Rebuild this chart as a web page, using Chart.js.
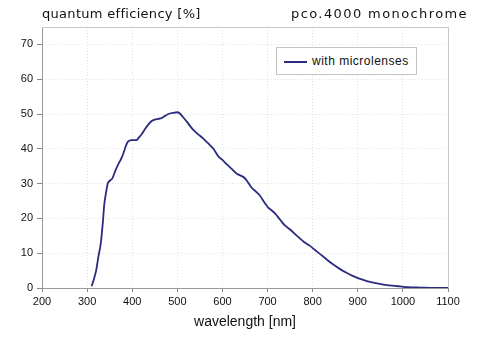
<!DOCTYPE html>
<html>
<head>
<meta charset="utf-8">
<title>pco.4000 monochrome – quantum efficiency</title>
<script src="https://cdn.jsdelivr.net/npm/chart.js@4/dist/chart.umd.min.js"></script>
<style>
  html, body { margin: 0; padding: 0; background: #fff; }
  #wrap {
    position: relative;
    width: 477px;
    height: 344px;
    font-family: 'Liberation Sans', Arial, sans-serif;
    color: #111;
  }
  #chart { position: absolute; left: 0; top: 0; }
  .head {
    position: absolute;
    top: 6px;
    font-family: 'DejaVu Sans', sans-serif;
    font-size: 13px;
    line-height: 16px;
    white-space: nowrap;
  }
  #head-left { left: 42px; letter-spacing: 0.3px; }
  #head-right { right: 9px; letter-spacing: 1.4px; }
  #legend {
    position: absolute;
    left: 276px;
    top: 47px;
    width: 141px;
    height: 28px;
    box-sizing: border-box;
    border: 1px solid #c4c4c4;
    background: #fff;
    font-size: 12px;
    letter-spacing: 0.5px;
  }
  #legend .swatch {
    position: absolute;
    left: 7px;
    top: 13px;
    width: 23px;
    height: 0;
    border-top: 2px solid #2b2b7f;
  }
  #legend .label {
    position: absolute;
    left: 35px;
    top: 6px;
    line-height: 14px;
    white-space: nowrap;
  }
</style>
</head>
<body>
<div id="wrap">
  <canvas id="chart" width="477" height="344"></canvas>
  <div class="head" id="head-left">quantum efficiency [%]</div>
  <div class="head" id="head-right">pco.4000 monochrome</div>
  <div id="legend"></div>
</div>

<script>
/* ---- data ---- */
const seriesName = 'with microlenses';

// wavelength [nm]
const wavelengths = [
  310, 315, 320, 325, 330, 335, 338, 342, 346, 350,
  356, 362, 369, 375, 380, 385, 390, 398, 410, 415,
  421, 428, 436, 443, 450, 458, 465, 472, 480, 490,
  500, 505, 512, 521, 528, 535, 545, 557, 568, 580,
  591, 600, 610, 620, 632, 645, 652, 665, 675, 683,
  692, 702, 710, 717, 728, 739, 750, 765, 780, 794,
  805, 818, 831, 845, 860, 875, 890, 905, 920, 940,
  957, 975, 990, 1001, 1020, 1040, 1060, 1080, 1100
];

// quantum efficiency [%]
const efficiency = [
  0.5, 2.5, 5, 9, 12.5, 19, 24, 27.5, 30.2, 30.8,
  31.5, 33.5, 35.5, 37, 38.5, 40.5, 42, 42.5, 42.5, 43.3,
  44.2, 45.6, 47, 48, 48.4, 48.6, 48.8, 49.4, 50, 50.3,
  50.5, 50.2, 49.2, 47.8, 46.6, 45.5, 44.3, 43, 41.6, 40,
  37.8, 36.8, 35.5, 34.3, 32.8, 32, 31.2, 28.8, 27.6, 26.6,
  24.8, 23, 22.2, 21.4, 19.6, 17.9, 16.8, 15, 13.3, 12.1,
  10.9, 9.6, 8.2, 6.8, 5.5, 4.4, 3.4, 2.6, 2, 1.4,
  1, 0.7, 0.5, 0.35, 0.2, 0.1, 0.05, 0.02, 0
];

// axis ranges / tick steps
const xRange = [200, 1100];
const xStep = 100;
const yRange = [0, 75];
const yStep = 10;
const yLastTick = 70;

const lineColor = '#2b2b7f';

// legend (HTML, built from the series name)
document.getElementById('legend').innerHTML =
  '<span class="swatch"></span><span class="label">' + seriesName + '</span>';

// thin frame on top / right of the plot area
const framePlugin = {
  id: 'frame',
  beforeDatasetsDraw(chart) {
    const { ctx, chartArea: a } = chart;
    ctx.save();
    ctx.strokeStyle = '#c8c8c8';
    ctx.lineWidth = 1;
    ctx.beginPath();
    ctx.moveTo(a.left, a.top + 0.5);
    ctx.lineTo(a.right + 0.5, a.top + 0.5);
    ctx.lineTo(a.right + 0.5, a.bottom);
    ctx.stroke();
    ctx.restore();
  }
};

Chart.defaults.font.family = "'Liberation Sans', Arial, sans-serif";
Chart.defaults.color = '#111';

new Chart(document.getElementById('chart'), {
  type: 'line',
  data: {
    datasets: [{
      label: seriesName,
      data: wavelengths.map((w, i) => ({ x: w, y: efficiency[i] })),
      borderColor: lineColor,
      borderWidth: 1.8,
      pointRadius: 0,
      tension: 0.2,
      fill: false
    }]
  },
  options: {
    responsive: false,
    animation: false,
    layout: { padding: { top: 27, right: 29, left: 0, bottom: 0 } },
    plugins: {
      legend: { display: false },
      tooltip: { enabled: false }
    },
    scales: {
      x: {
        type: 'linear',
        min: xRange[0],
        max: xRange[1],
        ticks: {
          stepSize: xStep,
          padding: 3,
          font: { size: 11 },
          maxRotation: 0,
          callback: v => String(v)
        },
        grid: { color: '#e2e2e2', tickColor: '#888', tickLength: 4, tickBorderDash: [] },
        border: { color: '#999', dash: [1, 2] },
        title: {
          display: true,
          text: 'wavelength [nm]',
          font: { size: 14 },
          padding: { top: 0, bottom: 13 }
        },
        afterFit(scale) { scale.height = 56; }
      },
      y: {
        min: yRange[0],
        max: yRange[1],
        ticks: { stepSize: yStep, padding: 4, font: { size: 11 } },
        afterBuildTicks(scale) {
          scale.ticks = scale.ticks.filter(t => t.value <= yLastTick);
        },
        grid: { color: '#e2e2e2', tickColor: '#888', tickLength: 5, tickBorderDash: [] },
        border: { color: '#999', dash: [1, 2] },
        afterFit(scale) { scale.width = 42; }
      }
    }
  },
  plugins: [framePlugin]
});
</script>
</body>
</html>
